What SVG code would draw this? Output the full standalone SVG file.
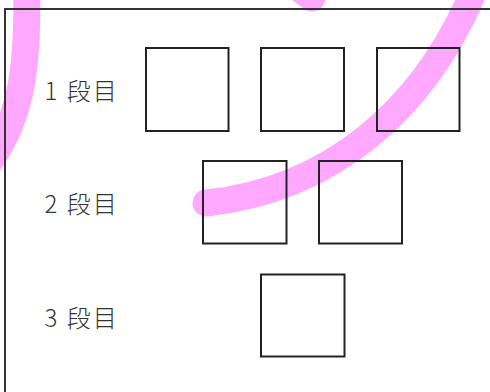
<svg xmlns="http://www.w3.org/2000/svg" width="490" height="392" viewBox="0 0 490 392">
  <style>
    .pen { fill: none; stroke: #ffa8ff; stroke-width: 27; stroke-linecap: round; stroke-linejoin: round; }
    .box { fill: none; stroke: #222; stroke-width: 2; }
    .frame { fill: none; stroke: #333; stroke-width: 2; }
    .lbl { font-family: "Noto Sans CJK JP", "Noto Sans", sans-serif; font-size: 24px; font-weight: 300; letter-spacing: 2px; fill: #333; }
  </style>
  <rect width="490" height="392" fill="#fff"/>
  <g id="strokes">
    <path class="pen" d="M27,-20 C27,60 26,115 -15,168"/>
    <path class="pen" d="M285,-22 L312,-2"/>
    <path class="pen" d="M206,203 C330,190 425,110 475,-12"/>
  </g>
  <path id="frame" class="frame" d="M492,9 H5 V394"/>
  <g id="row1">
    <text class="lbl" x="44.5" y="100">1 段目</text>
    <rect id="b11" class="box" x="146" y="48" width="82.5" height="83"/>
    <rect id="b12" class="box" x="261" y="48" width="83" height="83"/>
    <rect id="b13" class="box" x="377" y="48" width="82.5" height="83"/>
  </g>
  <g id="row2">
    <text class="lbl" x="44.5" y="213">2 段目</text>
    <rect id="b21" class="box" x="203" y="161" width="83.5" height="82.5"/>
    <rect id="b22" class="box" x="319" y="161" width="83" height="82.5"/>
  </g>
  <g id="row3">
    <text class="lbl" x="44.5" y="326.5">3 段目</text>
    <rect id="b31" class="box" x="261" y="274.5" width="83.5" height="82"/>
  </g>
</svg>
